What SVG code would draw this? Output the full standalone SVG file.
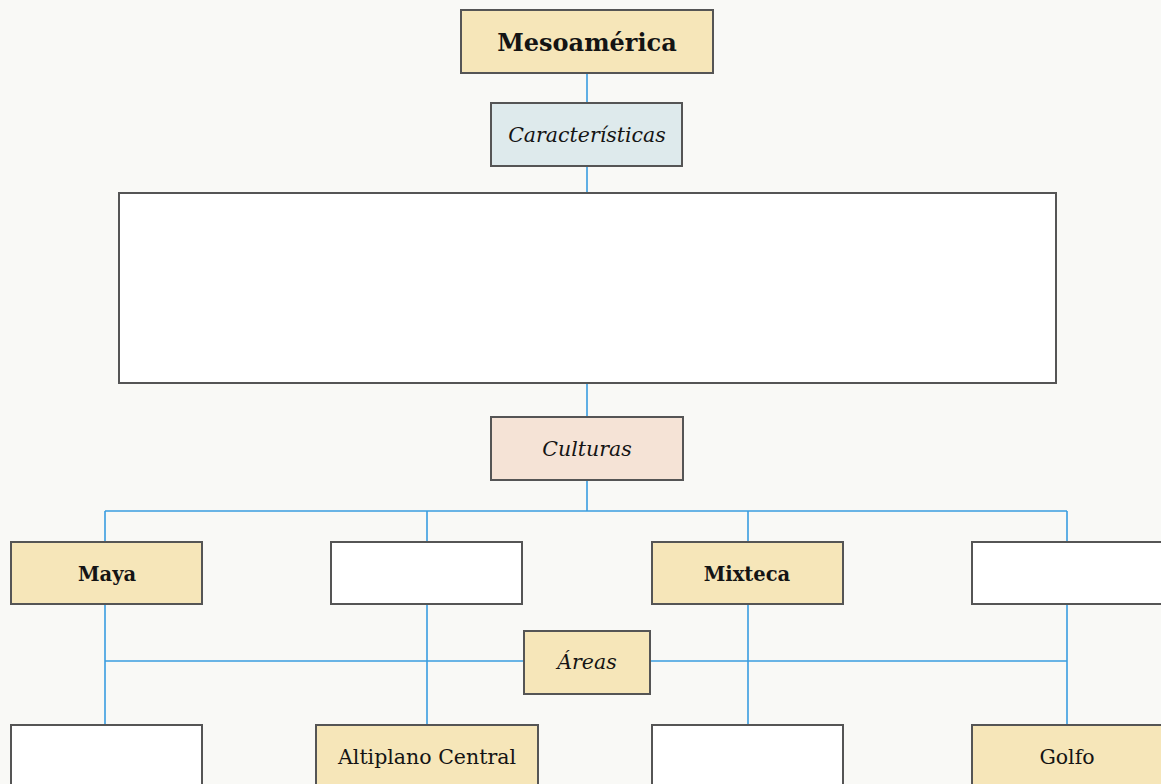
<svg xmlns="http://www.w3.org/2000/svg" width="1161" height="784" viewBox="0 0 1161 784">
<style>
.box{stroke:#555;stroke-width:2}
.tan{fill:#f6e6b9}
.blue{fill:#deeaec}
.pink{fill:#f5e3d6}
.white{fill:#fff}
.t{font-family:"DejaVu Serif","Liberation Serif",serif;fill:#141414;text-anchor:middle;dominant-baseline:central}
.b{font-weight:bold}
.i{font-style:italic}
.c{stroke:#3a9de0;stroke-width:1.6;fill:none}
</style>
<rect width="1161" height="784" fill="#f9f9f6"/>
<g id="connectors">
<path class="c" d="M587 73V103M587 166V193M587 383V417M587 480V511M105 511H1067M105 511V542M427 511V542M748 511V542M1067 511V542M105 604V725M427 604V725M748 604V725M1067 604V725M105 661H524M650 661H1067"/>
</g>
<g id="mesoamerica"><rect class="box tan" x="461" y="10" width="252" height="63"/><text class="t b" x="587" y="42" font-size="24">Mesoamérica</text></g>
<g id="caracteristicas"><rect class="box blue" x="491" y="103" width="191" height="63"/><text class="t i" x="587" y="135" font-size="20.5">Características</text></g>
<g id="caracteristicas-detalle"><rect class="box white" x="119" y="193" width="937" height="190"/></g>
<g id="culturas"><rect class="box pink" x="491" y="417" width="192" height="63"/><text class="t i" x="587" y="449" font-size="20.5">Culturas</text></g>
<g id="maya"><rect class="box tan" x="11" y="542" width="191" height="62"/><text class="t b" x="107" y="574" font-size="19.5">Maya</text></g>
<g id="cultura2"><rect class="box white" x="331" y="542" width="191" height="62"/></g>
<g id="mixteca"><rect class="box tan" x="652" y="542" width="191" height="62"/><text class="t b" x="747" y="574" font-size="19.5">Mixteca</text></g>
<g id="cultura4"><rect class="box white" x="972" y="542" width="195" height="62"/></g>
<g id="areas"><rect class="box tan" x="524" y="631" width="126" height="63"/><text class="t i" x="587" y="662" font-size="20.5">Áreas</text></g>
<g id="area1"><rect class="box white" x="11" y="725" width="191" height="66"/></g>
<g id="altiplano"><rect class="box tan" x="316" y="725" width="222" height="66"/><text class="t" x="427" y="757" font-size="20.5">Altiplano Central</text></g>
<g id="area3"><rect class="box white" x="652" y="725" width="191" height="66"/></g>
<g id="golfo"><rect class="box tan" x="972" y="725" width="195" height="66"/><text class="t" x="1067" y="757" font-size="20.5">Golfo</text></g>
</svg>
